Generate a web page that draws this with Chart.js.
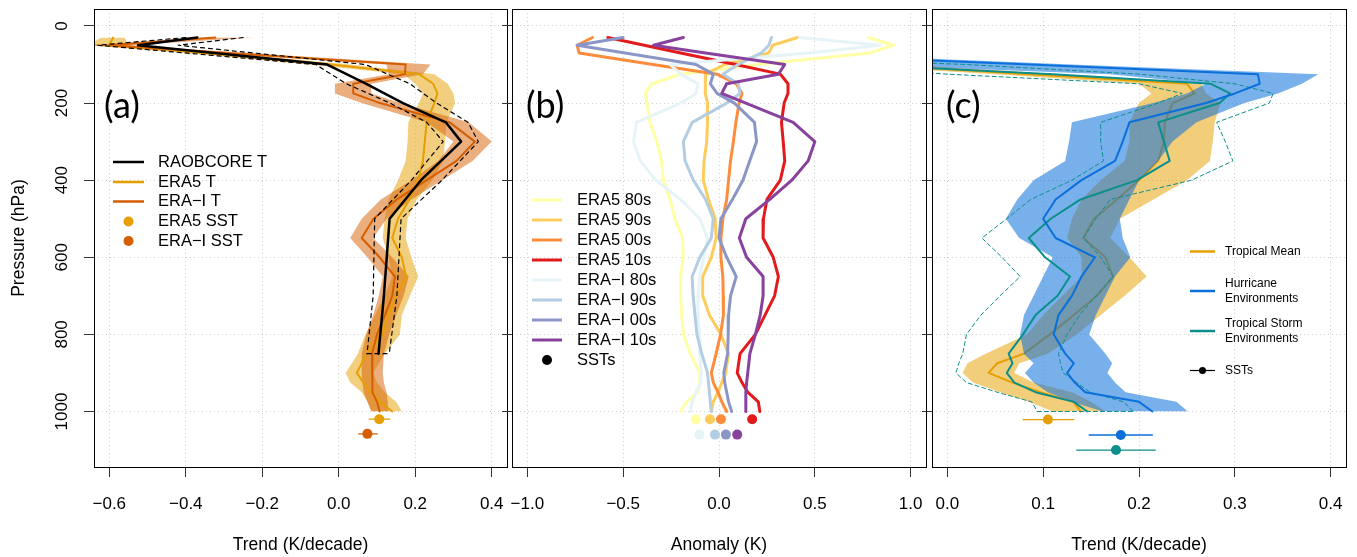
<!DOCTYPE html>
<html>
<head>
<meta charset="utf-8">
<script src="https://cdn.jsdelivr.net/npm/chart.js@4.4.1/dist/chart.umd.min.js"></script>
<style>
  html, body { margin: 0; padding: 0; background: #fff; }
  #wrap { position: relative; width: 1357px; height: 557px; overflow: hidden; background: #fff; }
  canvas { position: absolute; left: 0; top: 0; }
</style>
</head>
<body>
<div id="wrap">
  <canvas id="panelA" width="1357" height="557"></canvas>
  <canvas id="panelB" width="1357" height="557"></canvas>
  <canvas id="panelC" width="1357" height="557"></canvas>
</div>
<script>
const FONT = '"Liberation Sans", Arial, sans-serif';

// -------- AXIS TICKS --------
const pressureTicks = [0, 200, 400, 600, 800, 1000];
const xTicksA = [-0.6, -0.4, -0.2, 0, 0.2, 0.4];
const xTicksB = [-1, -0.5, 0, 0.5, 1];
const xTicksC = [0, 0.1, 0.2, 0.3, 0.4];

// -------- PANEL (a): temperature trends (K/decade) --------
const levelsA = [30, 50, 70, 100, 125, 150, 175, 200, 250, 300, 350, 400, 450, 500, 550, 600, 650, 700, 750, 800, 850, 900, 925, 950, 975, 1000];
const era5Trend = [-0.59, -0.6, -0.35, -0.02, 0.21, 0.247, 0.258, 0.25, 0.23, 0.225, 0.22, 0.208, 0.185, 0.155, 0.14, 0.165, 0.176, 0.15, 0.13, 0.115, 0.073, 0.047, 0.065, 0.082, 0.108, 0.14];
const era5Lo = [-0.62, -0.66, -0.4, -0.08, 0.17, 0.2, 0.22, 0.21, 0.182, 0.18, 0.175, 0.155, 0.13, 0.12, 0.115, 0.13, 0.14, 0.12, 0.095, 0.07, 0.05, 0.018, 0.03, 0.06, 0.075, 0.087];
const era5Hi = [-0.56, -0.55, -0.3, 0.03, 0.25, 0.285, 0.3, 0.304, 0.282, 0.278, 0.273, 0.245, 0.204, 0.18, 0.175, 0.19, 0.208, 0.186, 0.165, 0.16, 0.12, 0.09, 0.1, 0.12, 0.15, 0.165];
const eraiTrend = [-0.323, -0.6, -0.29, 0.175, 0.173, 0.038, 0.038, 0.108, 0.29, 0.356, 0.308, 0.23, 0.152, 0.091, 0.06, 0.107, 0.147, 0.14, 0.121, 0.1, 0.087, 0.087, 0.088, 0.089, 0.1, 0.107];
const eraiLo = [-0.35, -0.66, -0.34, 0.125, 0.13, -0.01, -0.01, 0.06, 0.23, 0.3, 0.26, 0.19, 0.11, 0.06, 0.03, 0.075, 0.115, 0.105, 0.09, 0.072, 0.06, 0.06, 0.062, 0.065, 0.075, 0.085];
const eraiHi = [-0.22, -0.55, -0.24, 0.24, 0.22, 0.085, 0.085, 0.16, 0.34, 0.4, 0.35, 0.27, 0.19, 0.125, 0.09, 0.14, 0.183, 0.17, 0.15, 0.132, 0.118, 0.115, 0.118, 0.125, 0.128, 0.13];

const raobLevels = [30, 50, 100, 150, 200, 250, 300, 400, 500, 700, 850];
const raobTrend = [-0.37, -0.525, -0.03, 0.072, 0.168, 0.28, 0.32, 0.215, 0.133, 0.118, 0.104];
const raobLo = [-0.4, -0.63, -0.06, 0.02, 0.134, 0.23, 0.273, 0.19, 0.094, 0.09, 0.074];
const raobHi = [-0.25, -0.42, 0.07, 0.186, 0.256, 0.338, 0.365, 0.27, 0.163, 0.152, 0.132];

const sstNamesA = ['ERA5 SST', 'ERA−I SST'];
const sstLevelsA = [1020, 1058];
const sstTrendA = [0.106, 0.075];
const sstLoA = [0.08, 0.052];
const sstHiA = [0.133, 0.101];
const seriesNamesA = ['RAOBCORE T', 'ERA5 T', 'ERA−I T'];

// -------- PANEL (b): decadal anomalies (K) --------
const seriesNamesB = ['ERA5 80s', 'ERA5 90s', 'ERA5 00s', 'ERA5 10s', 'ERA−I 80s', 'ERA−I 90s', 'ERA−I 00s', 'ERA−I 10s'];
const era5_80s = [0.78, 0.91, 0.79, 0.2, -0.2, -0.35, -0.385, -0.375, -0.36, -0.324, -0.3, -0.29, -0.255, -0.23, -0.19, -0.186, -0.2, -0.2, -0.195, -0.185, -0.15, -0.1, -0.1, -0.11, -0.17, -0.2];
const era5_90s = [0.41, 0.28, 0.26, 0.03, -0.07, -0.07, -0.073, -0.06, -0.06, -0.064, -0.078, -0.082, -0.055, -0.02, -0.015, -0.04, -0.085, -0.085, -0.05, 0.01, 0.049, 0.035, 0.015, -0.005, -0.03, -0.04];
const era5_00s = [-0.66, -0.74, -0.73, -0.345, -0.01, 0.09, 0.12, 0.105, 0.088, 0.075, 0.06, 0.05, 0.04, 0.02, 0.01, 0.01, 0.02, 0.022, 0.023, 0.008, -0.015, -0.04, -0.03, -0.005, 0.015, 0.04];
const era5_10s = [-0.58, -0.39, -0.2, 0.087, 0.32, 0.36, 0.36, 0.34, 0.326, 0.335, 0.343, 0.32, 0.25, 0.232, 0.23, 0.283, 0.31, 0.29, 0.24, 0.19, 0.11, 0.095, 0.12, 0.15, 0.205, 0.213];
const erai_80s = [0.42, 0.84, 0.47, -0.255, -0.2, -0.11, -0.12, -0.2, -0.43, -0.446, -0.41, -0.33, -0.2, -0.1, -0.06, -0.08, -0.1, -0.11, -0.11, -0.1, -0.1, -0.093, -0.095, -0.12, -0.14, -0.15];
const erai_90s = [0.274, 0.26, 0.22, 0.1, 0.02, 0.1, 0.11, 0.04, -0.14, -0.186, -0.177, -0.134, -0.07, -0.03, -0.04, -0.1, -0.14, -0.135, -0.125, -0.115, -0.09, -0.06, -0.055, -0.05, -0.045, -0.04];
const erai_00s = [-0.5, -0.74, -0.49, -0.12, -0.03, -0.045, -0.01, 0.08, 0.185, 0.196, 0.16, 0.125, 0.07, 0.01, 0.0, 0.04, 0.09, 0.06, 0.05, 0.048, 0.045, 0.025, 0.03, 0.04, 0.05, 0.066];
const erai_10s = [-0.186, -0.342, -0.07, 0.343, 0.31, 0.04, 0.014, 0.14, 0.387, 0.5, 0.465, 0.38, 0.265, 0.14, 0.106, 0.144, 0.23, 0.23, 0.215, 0.19, 0.161, 0.15, 0.144, 0.14, 0.14, 0.14];
const sstLevelsB = [1020, 1060];
const era5SstB = [-0.121, -0.047, 0.01, 0.173];
const eraiSstB = [-0.102, -0.021, 0.036, 0.095];

// -------- PANEL (c): environments (K/decade) --------
const levelsC = [70, 100, 125, 150, 175, 200, 250, 300, 350, 400, 450, 500, 550, 600, 650, 700, 750, 800, 850, 875, 900, 925, 950, 975, 1000];
const tropMean = [-0.4, -0.08, 0.085, 0.25, 0.258, 0.235, 0.227, 0.226, 0.22, 0.2, 0.177, 0.153, 0.142, 0.165, 0.173, 0.156, 0.132, 0.107, 0.08, 0.052, 0.043, 0.068, 0.097, 0.132, 0.139];
const tropLo = [-0.5, -0.12, 0.05, 0.2, 0.213, 0.2, 0.19, 0.19, 0.185, 0.16, 0.14, 0.13, 0.125, 0.14, 0.14, 0.12, 0.1, 0.083, 0.04, 0.021, 0.016, 0.027, 0.055, 0.085, 0.11];
const tropHi = [-0.3, -0.05, 0.12, 0.265, 0.27, 0.285, 0.279, 0.277, 0.274, 0.25, 0.215, 0.18, 0.17, 0.19, 0.208, 0.185, 0.16, 0.135, 0.105, 0.075, 0.07, 0.09, 0.13, 0.15, 0.165];
const hurr = [-0.2, 0.086, 0.324, 0.326, 0.3, 0.27, 0.19, 0.183, 0.175, 0.14, 0.113, 0.1, 0.113, 0.154, 0.14, 0.13, 0.116, 0.111, 0.123, 0.132, 0.125, 0.133, 0.144, 0.2, 0.214];
const hurrLo = [-0.6, -0.1, 0.17, 0.27, 0.25, 0.215, 0.13, 0.127, 0.123, 0.09, 0.073, 0.061, 0.075, 0.11, 0.1, 0.09, 0.08, 0.076, 0.08, 0.09, 0.081, 0.09, 0.105, 0.13, 0.162];
const hurrHi = [-0.16, 0.13, 0.387, 0.37, 0.345, 0.31, 0.26, 0.235, 0.22, 0.2, 0.19, 0.18, 0.183, 0.191, 0.175, 0.165, 0.155, 0.148, 0.165, 0.172, 0.167, 0.175, 0.186, 0.239, 0.251];
const storm = [-0.5, -0.1, 0.11, 0.275, 0.295, 0.284, 0.22, 0.226, 0.232, 0.198, 0.139, 0.108, 0.085, 0.102, 0.128, 0.115, 0.092, 0.079, 0.064, 0.068, 0.062, 0.07, 0.092, 0.132, 0.146];
const stormLo = [-0.8, -0.15, 0.0, 0.2, 0.245, 0.22, 0.16, 0.16, 0.163, 0.13, 0.087, 0.062, 0.036, 0.057, 0.076, 0.055, 0.035, 0.02, 0.016, 0.012, 0.009, 0.02, 0.052, 0.088, 0.094];
const stormHi = [-0.3, 0.02, 0.2, 0.3, 0.34, 0.336, 0.281, 0.29, 0.298, 0.255, 0.17, 0.155, 0.142, 0.16, 0.173, 0.155, 0.138, 0.125, 0.116, 0.118, 0.121, 0.135, 0.149, 0.184, 0.194];
const seriesNamesC = [['Tropical Mean'], ['Hurricane', 'Environments'], ['Tropical Storm', 'Environments'], ['SSTs']];
const sstLevelsC = [1021, 1061, 1100];
const sstTrendC = [0.105, 0.181, 0.176];
const sstLoC = [0.079, 0.148, 0.135];
const sstHiC = [0.132, 0.214, 0.217];

// -------- COLOURS --------
const cEra5 = '#E69F00', cErai = '#D55E00';
const coloursB = ['#FFFFA6', '#FECC5C', '#FD8D3C', '#E31A1C', '#E6F4F8', '#B3CDE3', '#8C96C6', '#88419D'];
const cHurr = '#0A6FDB', cStorm = '#0B8F8A';

// -------- HELPERS --------
const pts = (xs, ps) => xs.map((x, i) => ({ x, y: ps[i] }));
const line = (xs, ps, color, width, dash) => ({
  data: pts(xs, ps), borderColor: color, borderWidth: width, borderDash: dash || [],
  pointRadius: 0, fill: false
});
const band = (lo, hi, ps, color) => [
  { data: pts(lo, ps), borderWidth: 0, borderColor: 'transparent', pointRadius: 0, fill: '+1', backgroundColor: color },
  { data: pts(hi, ps), borderWidth: 0, borderColor: 'transparent', pointRadius: 0, fill: false }
];
const dots = (xs, ps, colors, r) => ({
  data: pts(xs, ps), showLine: false, pointRadius: r, pointBackgroundColor: colors,
  pointBorderWidth: 0, borderColor: 'transparent'
});
const last = a => a[a.length - 1];
const fmt = v => (v < 0 ? '\u2212' : '') + Math.abs(v).toFixed(1);
const setTicks = list => s => { s.ticks = list.map(value => ({ value })); };
// later datasets draw on top, like base R
const stack = ds => { ds.forEach((d, i) => d.order = ds.length - i); return ds; };

// box, panel letter and in-plot legend
const panelDecor = {
  id: 'panelDecor',
  afterDraw(chart, args, o) {
    const { ctx, chartArea: a } = chart;
    ctx.save();
    ctx.strokeStyle = '#000';
    ctx.lineWidth = 1;
    ctx.strokeRect(a.left + 0.5, a.top + 0.5, a.right - a.left, a.bottom - a.top);

    ctx.fillStyle = '#000';
    ctx.textBaseline = 'middle';
    ctx.font = '36px Lato, "Open Sans", sans-serif';
    ctx.fillText(o.letter, o.letterX, o.letterY);

    ctx.font = o.font;
    ctx.lineCap = 'butt';
    for (const it of o.items) {
      ctx.strokeStyle = it.color;
      ctx.fillStyle = it.color;
      if (it.kind === 'line' || it.kind === 'linedot') {
        ctx.lineWidth = it.width;
        ctx.beginPath();
        ctx.moveTo(o.lineX[0], it.y);
        ctx.lineTo(o.lineX[1], it.y);
        ctx.stroke();
      }
      if (it.kind === 'dot' || it.kind === 'linedot') {
        ctx.beginPath();
        ctx.arc((o.lineX[0] + o.lineX[1]) / 2, it.y, o.dotR, 0, Math.PI * 2);
        ctx.fill();
      }
      ctx.fillStyle = '#000';
      it.text.forEach((t, k) => {
        const ty = it.y + (k - (it.text.length - 1) / 2) * (o.lineGap || 0);
        ctx.fillText(t, o.textX, ty);
      });
    }
    ctx.restore();
  }
};

function makePanel(id, datasets, cfg) {
  return new Chart(document.getElementById(id), {
    type: 'line',
    data: { datasets: stack(datasets) },
    options: {
      indexAxis: 'y',
      responsive: false,
      animation: false,
      events: [],
      layout: { padding: { left: cfg.left - cfg.yWidth, right: 1357 - cfg.right, top: 9, bottom: 0 } },
      elements: { line: { tension: 0, borderJoinStyle: 'round', borderCapStyle: 'round' } },
      scales: {
        x: {
          type: 'linear', position: 'bottom', min: cfg.xMin, max: cfg.xMax,
          afterBuildTicks: setTicks(cfg.xTicks),
          afterFit: s => { s.height = 90; s.paddingLeft = 0; s.paddingRight = 0; },
          grid: { color: '#cfcfcf', lineWidth: 1, tickColor: '#333', tickLength: 10, tickWidth: 1 },
          border: { display: false, dash: [1, 3] },
          ticks: {
            autoSkip: false, minRotation: 0, maxRotation: 0,
            padding: 17, color: '#000', font: { family: FONT, size: 17 }, callback: fmt
          },
          title: { display: true, text: cfg.xTitle, color: '#000', font: { family: FONT, size: 17.5 }, padding: { top: 0, bottom: 1 } }
        },
        y: {
          type: 'linear', position: 'left', reverse: true, min: -44, max: 1144,
          afterBuildTicks: setTicks(pressureTicks),
          afterFit: s => { s.width = cfg.yWidth; s.paddingTop = 0; s.paddingBottom = 0; },
          grid: { color: '#cfcfcf', lineWidth: 1, tickColor: '#333', tickLength: 10, tickWidth: 1 },
          border: { display: false, dash: [1, 3] },
          ticks: {
            display: cfg.yLabels, autoSkip: false,
            minRotation: 90, maxRotation: 90, crossAlign: 'center', padding: 3,
            color: '#000', font: { family: FONT, size: 17 }, callback: v => String(v)
          },
          title: { display: cfg.yLabels, text: 'Pressure (hPa)', color: '#000', font: { family: FONT, size: 17.5 }, padding: { top: 9, bottom: 0 } }
        }
      },
      plugins: { legend: { display: false }, tooltip: { enabled: false }, panelDecor: cfg.decor }
    },
    plugins: [panelDecor]
  });
}

// -------- PANEL (a) --------
const dsA = [
  ...band(era5Lo, era5Hi, levelsA, 'rgba(230,159,0,0.5)'),
  ...band(eraiLo, eraiHi, levelsA, 'rgba(213,94,0,0.5)'),
  line(era5Trend, levelsA, cEra5, 2),
  line(eraiTrend, levelsA, cErai, 2),
  line(raobLo, raobLevels, '#000', 1.2, [4, 4]),
  line(raobHi, raobLevels, '#000', 1.2, [4, 4]),
  line([last(raobLo), last(raobHi)], [last(raobLevels), last(raobLevels)], '#000', 1.2, [4, 4]),
  line(raobTrend, raobLevels, '#000', 2.5)
];
[cEra5, cErai].forEach((c, i) => {
  dsA.push(line([sstLoA[i], sstHiA[i]], [sstLevelsA[i], sstLevelsA[i]], c, 1.3));
  dsA.push(dots([sstTrendA[i]], [sstLevelsA[i]], c, 5));
});

makePanel('panelA', dsA, {
  left: 94, right: 507, yWidth: 94, yLabels: true,
  xMin: -0.64, xMax: 0.44, xTicks: xTicksA, xTitle: 'Trend (K/decade)',
  decor: {
    letter: '(a)', letterX: 104, letterY: 106,
    font: '16.5px ' + FONT, lineX: [113, 144], textX: 158, dotR: 5,
    items: [
      { text: [seriesNamesA[0]], y: 162, color: '#000', kind: 'line', width: 2.5 },
      { text: [seriesNamesA[1]], y: 182, color: cEra5, kind: 'line', width: 2.5 },
      { text: [seriesNamesA[2]], y: 201.5, color: cErai, kind: 'line', width: 2.5 },
      { text: [sstNamesA[0]], y: 221.5, color: cEra5, kind: 'dot' },
      { text: [sstNamesA[1]], y: 241, color: cErai, kind: 'dot' }
    ]
  }
});

// -------- PANEL (b) --------
const seriesB = [era5_80s, era5_90s, era5_00s, era5_10s, erai_80s, erai_90s, erai_00s, erai_10s];
const dsB = seriesB.map((s, i) => line(s, levelsA, coloursB[i], 3));
dsB.push(dots(era5SstB, era5SstB.map(() => sstLevelsB[0]), coloursB.slice(0, 4), 5));
dsB.push(dots(eraiSstB, eraiSstB.map(() => sstLevelsB[1]), coloursB.slice(4), 5));

makePanel('panelB', dsB, {
  left: 512, right: 926, yWidth: 30, yLabels: false,
  xMin: -1.08, xMax: 1.08, xTicks: xTicksB, xTitle: 'Anomaly (K)',
  decor: {
    letter: '(b)', letterX: 526, letterY: 106,
    font: '16.5px ' + FONT, lineX: [532, 562], textX: 577, dotR: 5,
    items: seriesNamesB.map((n, i) => ({ text: [n], y: 200 + i * 20, color: coloursB[i], kind: 'line', width: 3 }))
      .concat([{ text: ['SSTs'], y: 360, color: '#000', kind: 'dot' }])
  }
});

// -------- PANEL (c) --------
const dsC = [
  ...band(tropLo, tropHi, levelsC, 'rgba(230,159,0,0.52)'),
  line(tropMean, levelsC, cEra5, 2),
  ...band(hurrLo, hurrHi, levelsC, 'rgba(10,111,219,0.55)'),
  line(stormLo, levelsC, cStorm, 1, [4, 3]),
  line(stormHi, levelsC, cStorm, 1, [4, 3]),
  line([last(stormLo), last(stormHi)], [last(levelsC), last(levelsC)], cStorm, 1, [4, 3]),
  line(storm, levelsC, cStorm, 2),
  line(hurr, levelsC, cHurr, 2)
];
[cEra5, cHurr, cStorm].forEach((c, i) => {
  dsC.push(line([sstLoC[i], sstHiC[i]], [sstLevelsC[i], sstLevelsC[i]], c, 1.3));
  dsC.push(dots([sstTrendC[i]], [sstLevelsC[i]], c, 5));
});

makePanel('panelC', dsC, {
  left: 932, right: 1346, yWidth: 30, yLabels: false,
  xMin: -0.016, xMax: 0.416, xTicks: xTicksC, xTitle: 'Trend (K/decade)',
  decor: {
    letter: '(c)', letterX: 946, letterY: 106,
    font: '12px ' + FONT, lineX: [1190, 1215], textX: 1225, dotR: 3.5, lineGap: 14.5,
    items: [
      { text: seriesNamesC[0], y: 251.5, color: cEra5, kind: 'line', width: 2.5 },
      { text: seriesNamesC[1], y: 291, color: cHurr, kind: 'line', width: 2.5 },
      { text: seriesNamesC[2], y: 331, color: cStorm, kind: 'line', width: 2.5 },
      { text: seriesNamesC[3], y: 370.5, color: '#000', kind: 'linedot', width: 1.2 }
    ]
  }
});
</script>
</body>
</html>
